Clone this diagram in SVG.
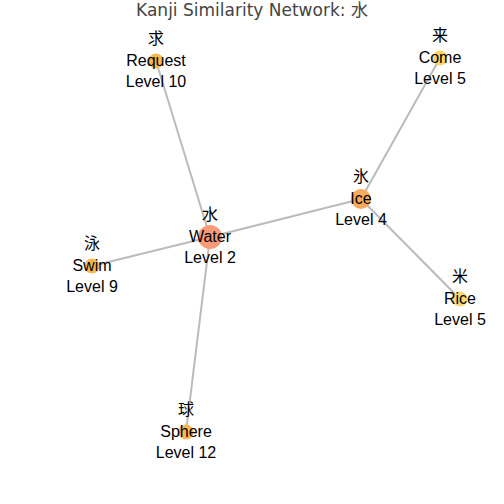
<svg xmlns="http://www.w3.org/2000/svg" width="504" height="504" viewBox="0 0 504 504">
<style>
.edge{stroke:#bbbbbb;stroke-width:2;fill:none}
.t{font-family:"Liberation Sans",Arial,"Noto Sans CJK JP",sans-serif;font-size:16px;fill:#000;text-anchor:middle}
.title{font-family:"DejaVu Sans","Noto Sans CJK JP",sans-serif;font-size:17px;fill:#444;text-anchor:middle}
</style>
<rect width="504" height="504" fill="#ffffff"/>
<text class="title" x="252" y="15.5">Kanji Similarity Network: 水</text>
<g id="connectors">
<line class="edge" x1="210" y1="237" x2="156" y2="61"/>
<line class="edge" x1="210" y1="237" x2="361" y2="199"/>
<line class="edge" x1="210" y1="237" x2="92" y2="266"/>
<line class="edge" x1="210" y1="237" x2="186" y2="432"/>
<line class="edge" x1="361" y1="199" x2="440" y2="58"/>
<line class="edge" x1="361" y1="199" x2="460" y2="299"/>
</g>
<g id="node-water"><circle cx="210" cy="237" r="12" fill="#f79a78"/><text class="t" x="210" y="220">水</text><text class="t" x="210" y="242">Water</text><text class="t" x="210" y="263">Level 2</text></g>
<g id="node-ice"><circle cx="361" cy="199" r="10" fill="#f8ab5e"/><text class="t" x="361" y="182">氷</text><text class="t" x="361" y="204">Ice</text><text class="t" x="361" y="225">Level 4</text></g>
<g id="node-request"><circle cx="156" cy="61" r="7.5" fill="#f9b750"/><text class="t" x="156" y="44">求</text><text class="t" x="156" y="66">Request</text><text class="t" x="156" y="87">Level 10</text></g>
<g id="node-come"><circle cx="440" cy="58" r="7.5" fill="#fdd56c"/><text class="t" x="440" y="41">来</text><text class="t" x="440" y="63">Come</text><text class="t" x="440" y="84">Level 5</text></g>
<g id="node-swim"><circle cx="92" cy="266" r="7.5" fill="#f9b650"/><text class="t" x="92" y="249">泳</text><text class="t" x="92" y="271">Swim</text><text class="t" x="92" y="292">Level 9</text></g>
<g id="node-rice"><circle cx="460" cy="299" r="7.5" fill="#fdd972"/><text class="t" x="460" y="282">米</text><text class="t" x="460" y="304">Rice</text><text class="t" x="460" y="325">Level 5</text></g>
<g id="node-sphere"><circle cx="186" cy="432" r="7.5" fill="#f8b458"/><text class="t" x="186" y="415">球</text><text class="t" x="186" y="437">Sphere</text><text class="t" x="186" y="458">Level 12</text></g>
</svg>
